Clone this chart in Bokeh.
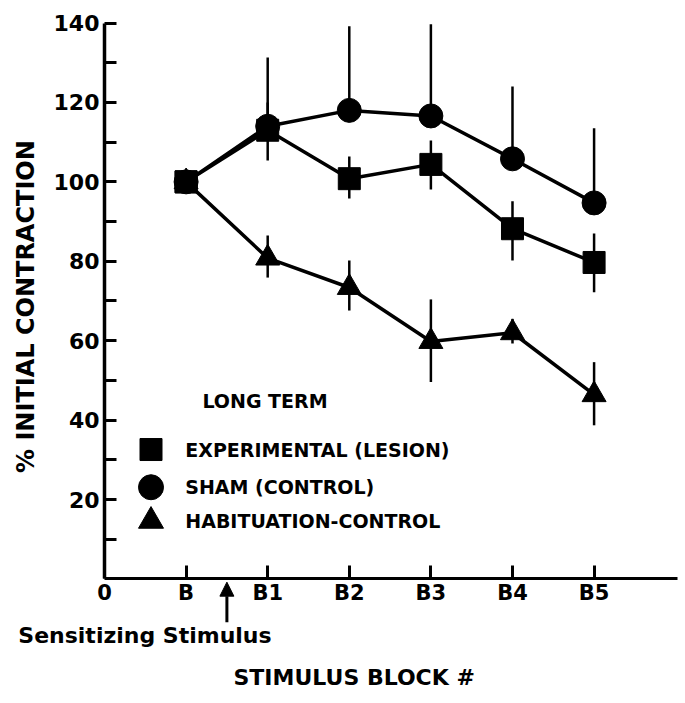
import math
from bokeh.plotting import figure
from bokeh.models import (Range1d, FixedTicker, ColumnDataSource, Arrow, NormalHead)
from bokeh.core.properties import value
from bokeh.embed import file_html
from bokeh.resources import INLINE

# ---------------- data ----------------
blocks = [1, 2, 3, 4, 5, 6]
tick_names = ["0", "B", "B1", "B2", "B3", "B4", "B5"]

exp_vals = [100, 113.0, 100.8, 104.4, 88.2, 79.7]
exp_lo = [100, 105.4, 95.8, 98.1, 80.2, 72.2]
exp_hi = [100, 120.0, 106.4, 110.4, 95.1, 87.0]

sham_vals = [100, 114.0, 118.0, 116.6, 105.8, 94.7]
sham_hi = [100, 131.3, 139.2, 139.7, 124.0, 113.5]

hab_vals = [100, 80.8, 73.4, 59.8, 62.0, 46.4]
hab_lo = [100, 75.9, 67.6, 49.6, 59.3, 38.7]
hab_hi = [100, 86.5, 80.2, 70.4, 65.5, 54.6]

legend_names = ["EXPERIMENTAL  (LESION)", "SHAM  (CONTROL)", "HABITUATION-CONTROL"]
legend_markers = ["square", "circle", "triangle"]

# ---------------- style ----------------
FONT = value("DejaVu Sans")
BLACK = "black"

# the frame fills the whole figure; axes sit at x=0 / y=0
p = figure(frame_width=680, frame_height=700,
           x_range=Range1d(-1.2745, 7.059), y_range=Range1d(-30.6, 145.67),
           output_backend="svg", toolbar_location=None,
           min_border=0, min_border_left=0, min_border_right=0,
           min_border_top=0, min_border_bottom=0)
p.outline_line_color = None
p.grid.visible = False
p.background_fill_color = "white"
p.border_fill_color = "white"

# y axis
ya = p.yaxis[0]
ya.fixed_location = 0
ya.bounds = (0, 140)
ya.ticker = FixedTicker(ticks=[20, 40, 60, 80, 100, 120, 140],
                        minor_ticks=[10, 30, 50, 70, 90, 110, 130])
ya.axis_line_width = 3.5
ya.major_tick_line_width = 3
ya.minor_tick_line_width = 3
ya.major_tick_in = 12
ya.major_tick_out = 0
ya.minor_tick_in = 12
ya.minor_tick_out = 0
ya.major_label_standoff = 5
ya.major_label_text_font = "DejaVu Sans"
ya.major_label_text_font_style = "bold"
ya.major_label_text_font_size = "22px"
ya.major_label_text_color = BLACK

# x axis
xa = p.xaxis[0]
xa.fixed_location = 0
xa.bounds = (0, 7.02)
xa.ticker = FixedTicker(ticks=list(range(len(tick_names))), minor_ticks=[])
xa.major_label_overrides = {i: t for i, t in enumerate(tick_names)}
xa.axis_line_width = 3
xa.major_tick_line_width = 3
xa.major_tick_in = 13
xa.major_tick_out = 0
xa.minor_tick_in = 0
xa.minor_tick_out = 0
xa.major_label_standoff = 2
xa.major_label_text_font = "DejaVu Sans"
xa.major_label_text_font_style = "bold"
xa.major_label_text_font_size = "21px"
xa.major_label_text_color = BLACK

# ---------------- error bars ----------------
eb = ColumnDataSource(dict(x=blocks[1:], elo=exp_lo[1:], ehi=exp_hi[1:],
                           sv=sham_vals[1:], shi=sham_hi[1:],
                           hlo=hab_lo[1:], hhi=hab_hi[1:]))
p.segment(x0="x", y0="elo", x1="x", y1="ehi", source=eb, line_width=2.5, line_color=BLACK)
p.segment(x0="x", y0="sv", x1="x", y1="shi", source=eb, line_width=2.5, line_color=BLACK)
p.segment(x0="x", y0="hlo", x1="x", y1="hhi", source=eb, line_width=2.5, line_color=BLACK)

# ---------------- lines + markers ----------------
for vals in (hab_vals, exp_vals, sham_vals):
    p.line(blocks, vals, line_width=3.5, line_color=BLACK)
for vals, marker, size in [(hab_vals, "triangle", 24), (exp_vals, "square", 22), (sham_vals, "circle", 24)]:
    p.scatter(blocks, vals, marker=marker, size=size, fill_color=BLACK, line_color=BLACK)
# square at B drawn last so it covers the coincident start points
p.scatter(blocks[:1], exp_vals[:1], marker="square", size=22, fill_color=BLACK, line_color=BLACK)

# ---------------- legend (drawn inside the plot) ----------------
LEG_MARK_X = 0.57
LEG_TEXT_X = 0.99
LEG_ROWS = [32.6, 23.1, 14.6]
leg = ColumnDataSource(dict(mx=[LEG_MARK_X] * 3, tx=[LEG_TEXT_X] * 3, y=LEG_ROWS,
                            marker=legend_markers, size=[22, 25, 25], name=legend_names))
p.scatter(x="mx", y="y", marker="marker", size="size", source=leg,
          fill_color=BLACK, line_color=BLACK)
p.text(x="tx", y="y", text="name", source=leg, text_font=FONT, text_font_style="bold",
       text_font_size="19px", text_baseline="middle", text_align="left", text_color=BLACK)
p.text(x=[1.2], y=[44.7], text=["LONG TERM"], text_font=FONT, text_font_style="bold",
       text_font_size="19px", text_baseline="middle", text_align="left", text_color=BLACK)

# ---------------- axis titles & annotations ----------------
p.text(x=[-0.968], y=[68.6], text=["% INITIAL CONTRACTION"], angle=math.pi / 2,
       text_font=FONT, text_font_style="bold", text_font_size="24px",
       text_baseline="middle", text_align="center", text_color=BLACK)
p.add_layout(Arrow(x_start=1.5, y_start=-10.9, x_end=1.5, y_end=-0.8,
                   line_width=3, line_color=BLACK,
                   end=NormalHead(size=14, fill_color=BLACK, line_color=BLACK)))
p.text(x=[0.496], y=[-14.2], text=["Sensitizing Stimulus"], text_font=FONT,
       text_font_style="bold", text_font_size="22px",
       text_baseline="middle", text_align="center", text_color=BLACK)
p.text(x=[3.06], y=[-24.9], text=["STIMULUS BLOCK #"], text_font=FONT,
       text_font_style="bold", text_font_size="22px",
       text_baseline="middle", text_align="center", text_color=BLACK)

open("out.html", "w").write(file_html(p, INLINE))
